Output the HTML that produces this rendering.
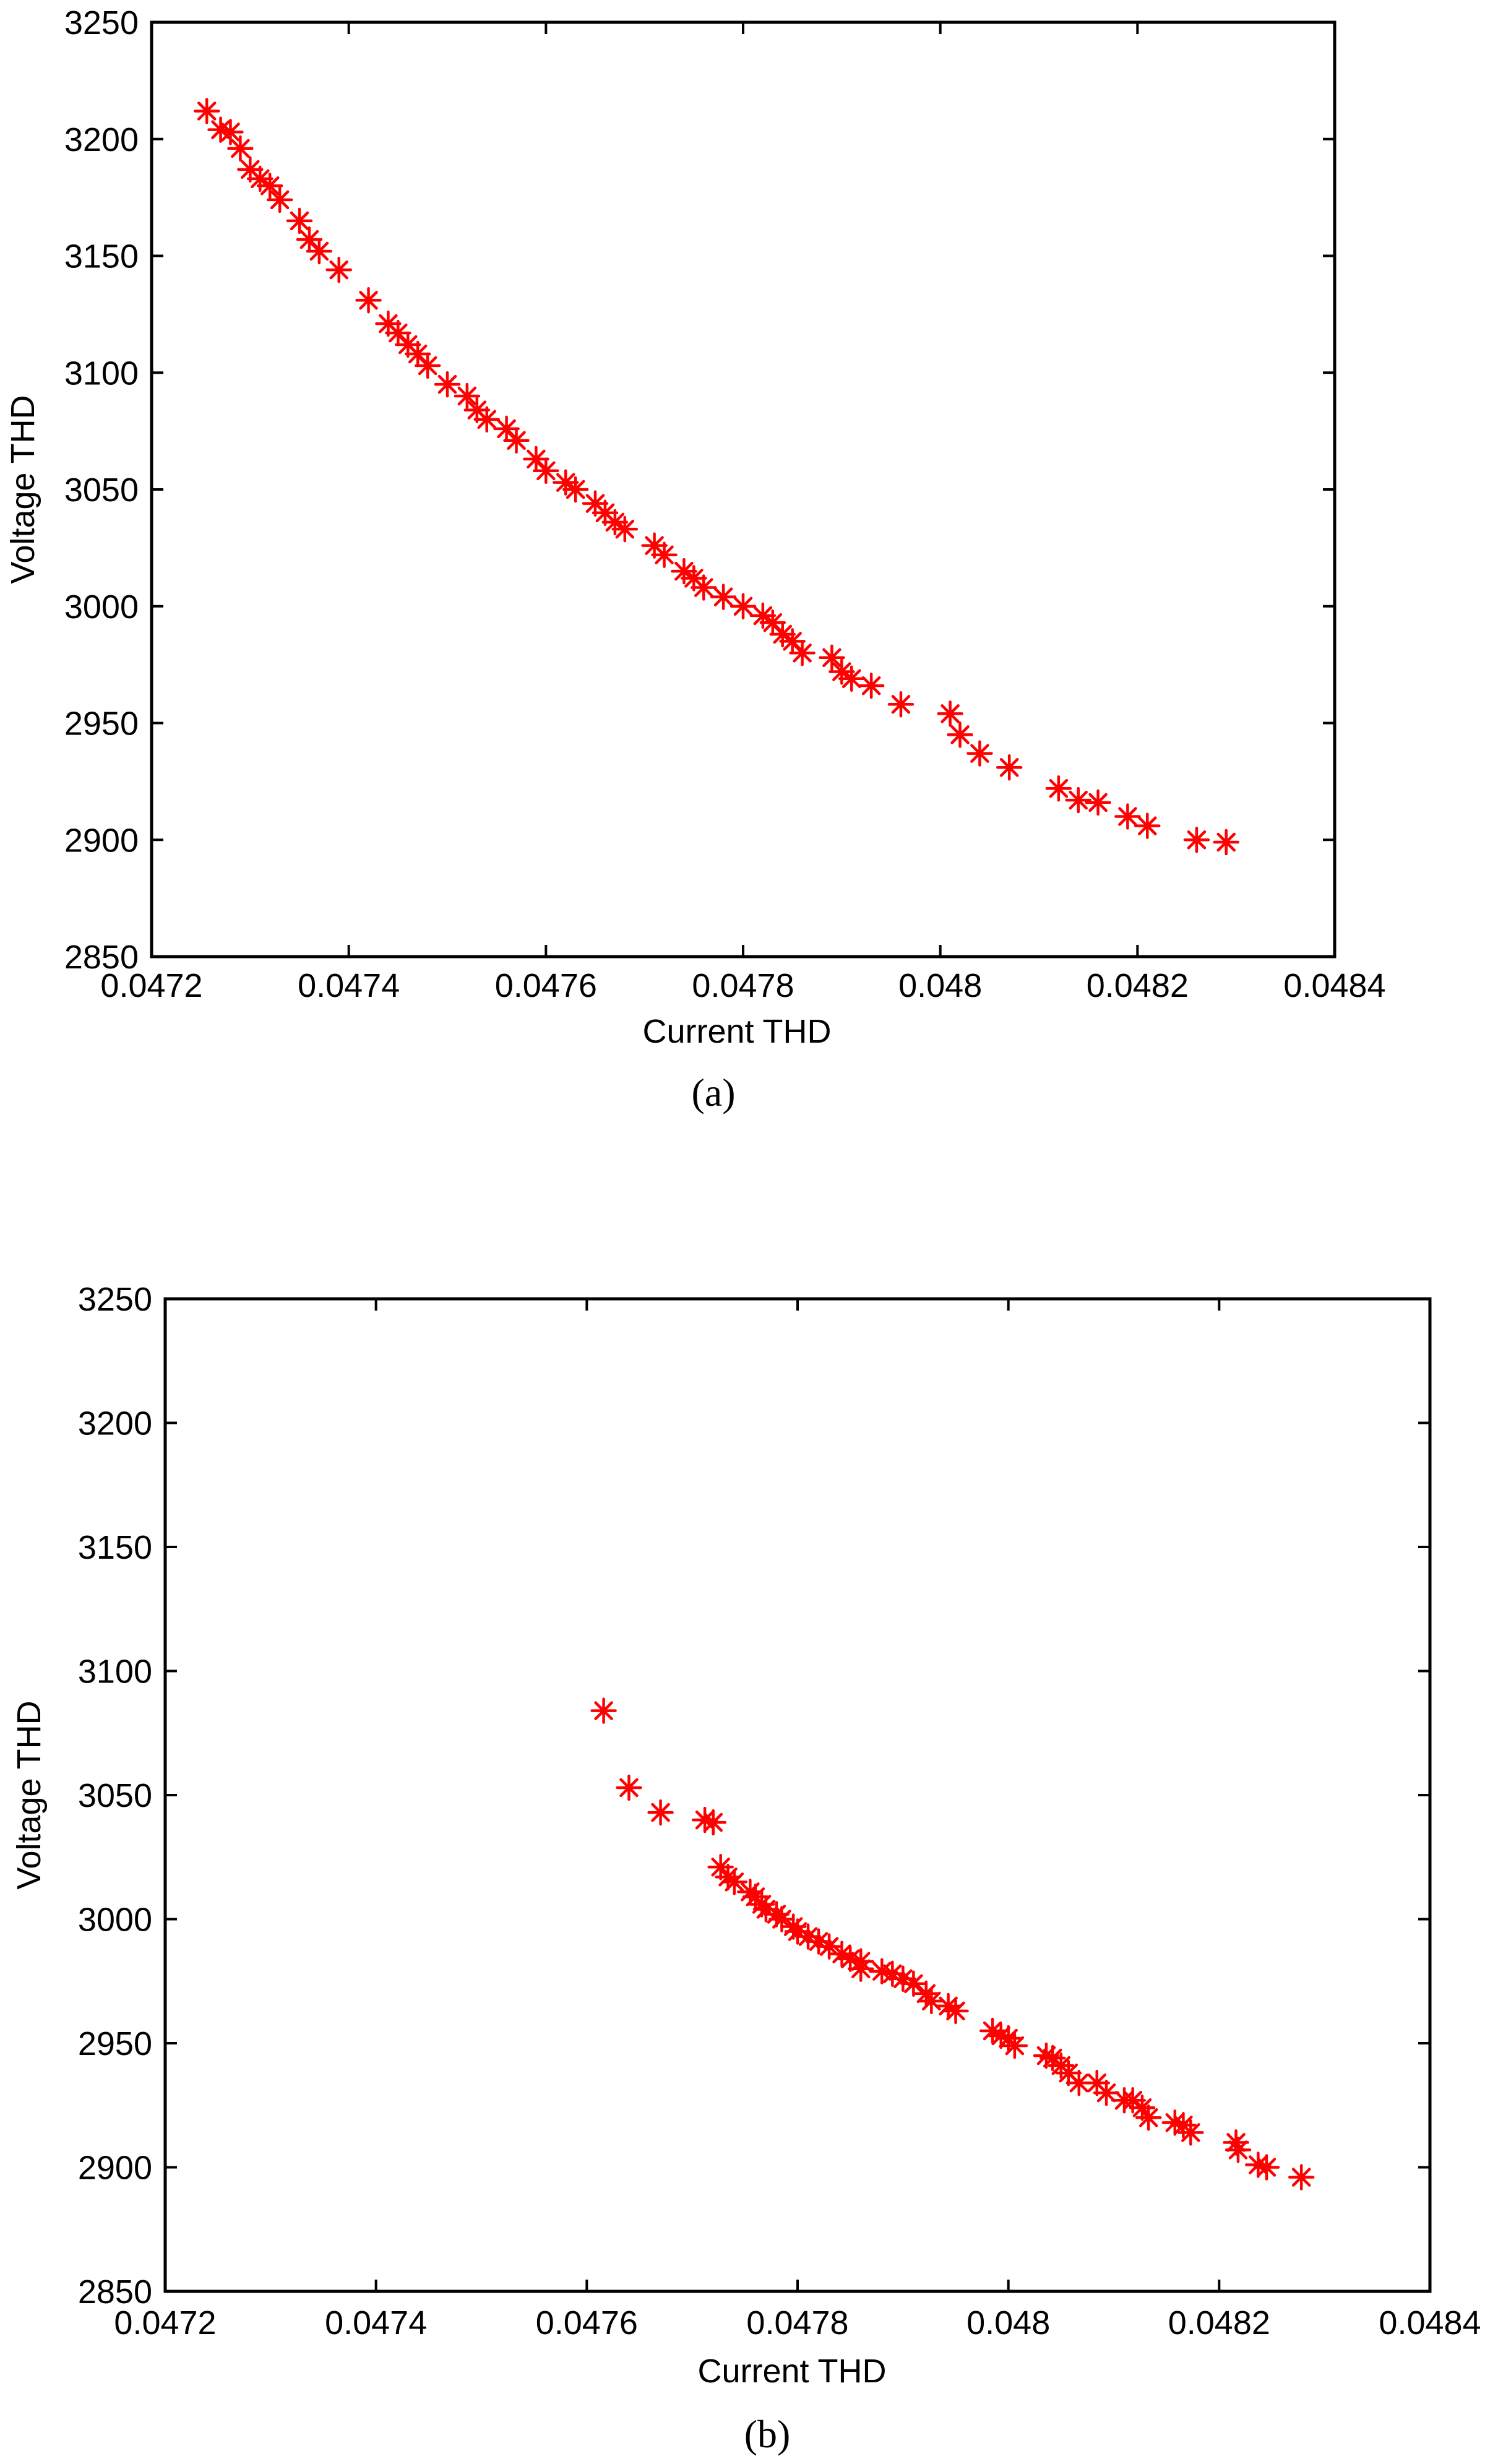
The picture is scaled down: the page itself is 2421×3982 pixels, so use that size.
<!DOCTYPE html>
<html><head><meta charset="utf-8"><style>
html,body{margin:0;padding:0;background:#fff;}
svg{display:block;}
text{font-family:"Liberation Sans",sans-serif;fill:#000;}
</style></head><body>
<svg id="fig" width="2421" height="3982" viewBox="0 0 2421 3982" xmlns="http://www.w3.org/2000/svg"></svg>
<script>
const xTicks = [0.0472,0.0474,0.0476,0.0478,0.048,0.0482,0.0484];
const xTickLabels = ["0.0472","0.0474","0.0476","0.0478","0.048","0.0482","0.0484"];
const yTicks = [2850,2900,2950,3000,3050,3100,3150,3200,3250];
const yTickLabels = ["2850","2900","2950","3000","3050","3100","3150","3200","3250"];
const aCurrent = [0.047256,0.04727,0.04728,0.04729,0.04730,0.04731,0.04732,0.04733,0.04735,0.04736,0.04737,0.04739,0.04742,0.04744,0.04745,0.04746,0.04747,0.04748,0.04750,0.04752,0.04753,0.04754,0.04756,0.04757,0.04759,0.04760,0.04762,0.04763,0.04765,0.04766,0.04767,0.04768,0.04771,0.04772,0.04774,0.04775,0.04776,0.04778,0.04780,0.04782,0.04783,0.04784,0.04785,0.04786,0.04789,0.04790,0.04791,0.04793,0.04796,0.04801,0.04802,0.04804,0.04807,0.04812,0.04814,0.04816,0.04819,0.04821,0.04826,0.04829];
const aVoltage = [3212,3204,3203,3196,3187,3183,3180,3174,3165,3157,3152,3144,3131,3121,3117,3112,3108,3103,3095,3090,3084,3080,3076,3071,3063,3058,3053,3050,3044,3040,3036,3033,3026,3022,3015,3012,3008,3004,3000,2996,2993,2988,2985,2980,2978,2972,2969,2966,2958,2954,2945,2937,2931,2922,2917,2916,2910,2906,2900,2899];
const bCurrent = [0.047616,0.04764,0.04767,0.047712,0.04772,0.047727,0.047734,0.04774,0.047755,0.04776,0.047766,0.04777,0.04778,0.047785,0.047796,0.0478,0.04781,0.04782,0.04783,0.047842,0.04785,0.04786,0.04786,0.04788,0.04789,0.0479,0.04791,0.047922,0.047927,0.047943,0.04795,0.047985,0.047993,0.048,0.048006,0.048036,0.048042,0.04805,0.048057,0.048067,0.048084,0.048093,0.04811,0.048118,0.048127,0.048133,0.048158,0.048166,0.048173,0.048216,0.048218,0.048237,0.048245,0.048278];
const bVoltage = [3084,3053,3043,3040,3039,3021,3017,3015,3011,3009,3006,3004,3002,3000,2997,2995,2993,2991,2989,2986,2984,2983,2980,2979,2978,2976,2974,2970,2967,2965,2963,2955,2953,2952,2949,2945,2944,2941,2938,2934,2934,2930,2927,2927,2924,2920,2918,2917,2914,2910,2907,2901,2900,2896];

const NS="http://www.w3.org/2000/svg";
const svg=document.getElementById('fig');
function el(tag,attrs,parent){const e=document.createElementNS(NS,tag);for(const k in attrs)e.setAttribute(k,attrs[k]);(parent||svg).appendChild(e);return e;}

function drawPanel(id,box,xs,ys,opt){
  const g=el('g',{});
  
  
  const xMin=0.0472,xMax=0.0484,yMin=2850,yMax=3250;
  const sx=v=>box.l+(v-xMin)/(xMax-xMin)*(box.r-box.l);
  const sy=v=>box.b-(v-yMin)/(yMax-yMin)*(box.b-box.t);
  const frame=el('rect',{x:box.l,y:box.t,width:box.r-box.l,height:box.b-box.t,fill:'none',stroke:'#000','stroke-width':5},g);
  
  
  const tl=19;
  xTicks.forEach((t,i)=>{
    const x=sx(t);
    el('line',{x1:x,y1:box.b,x2:x,y2:box.b-tl,stroke:'#000','stroke-width':4},g);
    el('line',{x1:x,y1:box.t,x2:x,y2:box.t+tl,stroke:'#000','stroke-width':4},g);
    const tx=el('text',{x:x,y:box.b+opt.xLabOff,'font-size':54,'text-anchor':'middle'},g);
    tx.textContent=xTickLabels[i];
    
    
  });
  yTicks.forEach((t,i)=>{
    const y=sy(t);
    el('line',{x1:box.l,y1:y,x2:box.l+tl,y2:y,stroke:'#000','stroke-width':4},g);
    el('line',{x1:box.r,y1:y,x2:box.r-tl,y2:y,stroke:'#000','stroke-width':4},g);
    const tx=el('text',{x:box.l-21,y:y+19,'font-size':54,'text-anchor':'end'},g);
    tx.textContent=yTickLabels[i];
    
    
  });
  const xt=el('text',{x:opt.xTitleX,y:opt.xTitleY,'font-size':54,'text-anchor':'middle'},g);
  xt.textContent='Current THD';
  
  
  const yc=(box.t+box.b)/2;
  const yt=el('text',{x:opt.yTitleX,y:yc,'font-size':54,'text-anchor':'middle',transform:`rotate(-90 ${opt.yTitleX} ${yc})`},g);
  yt.textContent='Voltage THD';
  
  
  const cap=el('text',{x:opt.capX,y:opt.capY,'font-size':64,'text-anchor':'middle',style:'font-family:"Liberation Serif",serif'},g);
  cap.textContent=opt.cap;
  
  
  const R=19,D=13;
  xs.forEach((v,i)=>{
    const x=sx(v),y=sy(ys[i]);
    const m=el('path',{d:`M${x-R},${y}H${x+R}M${x},${y-R}V${y+R}M${x-D},${y-D}L${x+D},${y+D}M${x-D},${y+D}L${x+D},${y-D}`,stroke:'#ff0000','stroke-width':4.5,'stroke-linecap':'round',fill:'none'},g);
    
    
  });
}
drawPanel('a',{l:245,r:2157,t:36,b:1546},aCurrent,aVoltage,{xLabOff:65,xTitleX:1191,xTitleY:1685,yTitleX:55,capX:1153,capY:1787,cap:'(a)'});
drawPanel('b',{l:267,r:2311,t:2099,b:3703},bCurrent,bVoltage,{xLabOff:69,xTitleX:1280,xTitleY:3850,yTitleX:65,capX:1240,capY:3955,cap:'(b)'});
</script>
</body></html>
